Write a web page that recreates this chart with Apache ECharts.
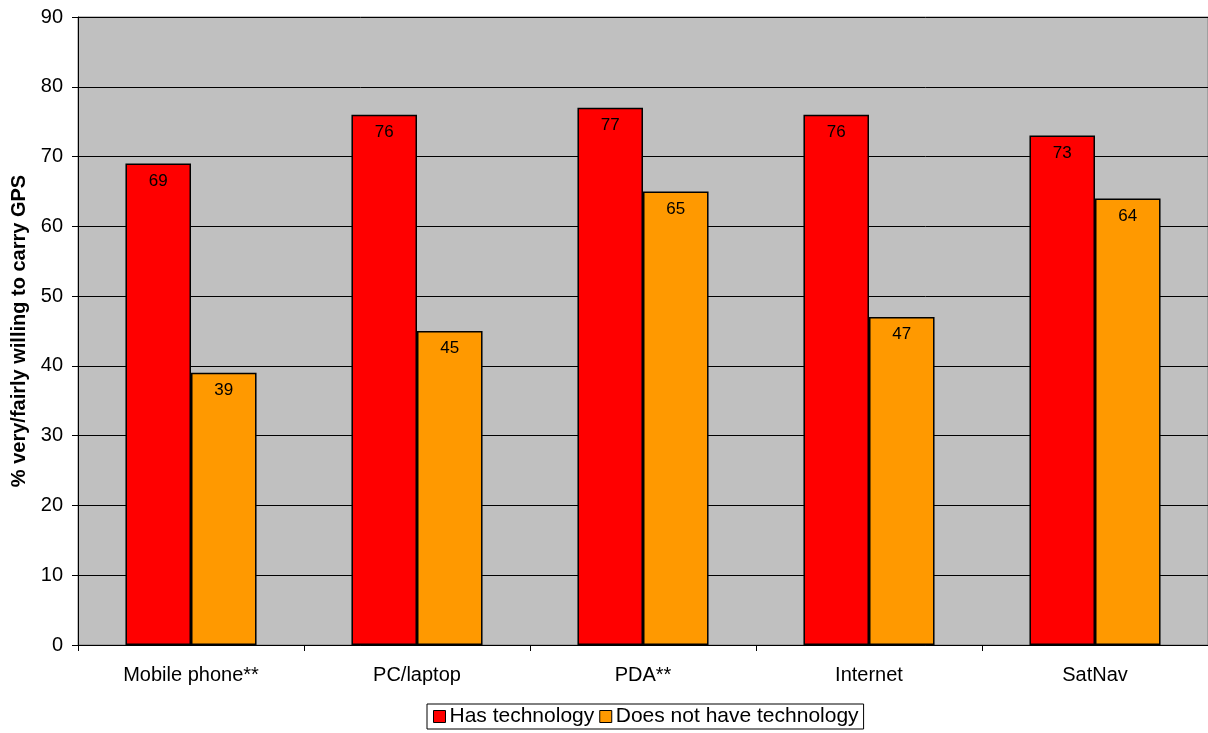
<!DOCTYPE html>
<html>
<head>
<meta charset="utf-8">
<script src="https://cdn.jsdelivr.net/npm/echarts@6/dist/echarts.min.js"></script>
<style>
  html, body { margin: 0; padding: 0; background: #ffffff; }
  #chart { width: 1208px; height: 733px; }
</style>
</head>
<body>
<div id="chart"></div>
<script>
// Technology ownership categories
const categories = ['Mobile phone**', 'PC/laptop', 'PDA**', 'Internet', 'SatNav'];
// % very/fairly willing to carry GPS
const hasTechnology = [69, 76, 77, 76, 73];
const noTechnology = [39, 45, 65, 47, 64];
const yTicks = { min: 0, max: 90, interval: 10 };

const FONT = '"Liberation Sans", Arial, sans-serif';

const chart = echarts.init(document.getElementById('chart'), null, { renderer: 'canvas' });

const barLabel = {
  show: true,
  position: 'insideTop',
  distance: 9,
  color: '#000',
  fontFamily: FONT,
  fontSize: 17
};

chart.setOption({
  animation: false,
  backgroundColor: '#ffffff',
  textStyle: { fontFamily: FONT },
  grid: {
    left: 78, right: 0, top: 17, bottom: 88,
    containLabel: false,
    outerBoundsMode: 'none',
    show: true,
    backgroundColor: '#C0C0C0',
    borderColor: '#808080',
    borderWidth: 1
  },
  legend: {
    data: ['Has technology', 'Does not have technology'],
    top: 704,
    left: 427,
    icon: 'rect',
    itemWidth: 12,
    itemHeight: 12,
    itemGap: 5,
    padding: [2, 5, 2, 6],
    borderColor: '#000',
    borderWidth: 1,
    backgroundColor: '#fff',
    itemStyle: { borderColor: '#000', borderWidth: 1 },
    textStyle: { fontFamily: FONT, fontSize: 21, color: '#000', padding: [0, 0, 0, -1] }
  },
  xAxis: {
    type: 'category',
    data: categories,
    axisLine: { show: true, lineStyle: { color: '#000', width: 1 } },
    axisTick: { show: true, length: 6, lineStyle: { color: '#000' } },
    axisLabel: { color: '#000', fontFamily: FONT, fontSize: 20, margin: 20 },
    splitLine: { show: false }
  },
  yAxis: {
    type: 'value',
    min: yTicks.min,
    max: yTicks.max,
    interval: yTicks.interval,
    name: '% very/fairly willing to carry GPS',
    nameLocation: 'middle',
    nameGap: 46,
    nameTextStyle: { color: '#000', fontFamily: FONT, fontSize: 20, fontWeight: 'bold' },
    axisLine: { show: true, lineStyle: { color: '#000', width: 1 } },
    axisTick: { show: true, length: 6, lineStyle: { color: '#000' } },
    axisLabel: { color: '#000', fontFamily: FONT, fontSize: 20, margin: 15 },
    splitLine: { show: true, lineStyle: { color: '#000', width: 1 } }
  },
  series: [
    {
      name: 'Has technology',
      type: 'bar',
      data: hasTechnology,
      barGap: '0%',
      barCategoryGap: '42%',
      itemStyle: { color: '#FF0000', borderColor: '#000', borderWidth: 1.5 },
      label: barLabel
    },
    {
      name: 'Does not have technology',
      type: 'bar',
      data: noTechnology,
      itemStyle: { color: '#FF9900', borderColor: '#000', borderWidth: 1.5 },
      label: barLabel
    }
  ]
});
</script>
</body>
</html>
